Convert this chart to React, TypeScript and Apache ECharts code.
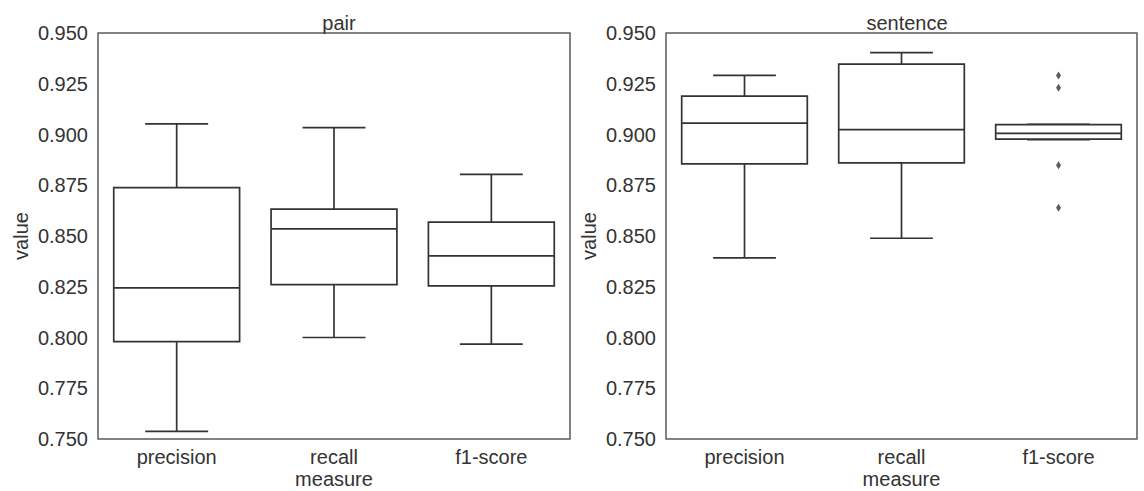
import React, { useEffect, useRef } from "react";
import * as echarts from "echarts";

const categories = ["precision", "recall", "f1-score"];
// [low whisker, Q1, median, Q3, high whisker]
const pairBoxes = [
  [0.7538, 0.798, 0.8244, 0.8738, 0.9052],
  [0.8, 0.826, 0.8535, 0.8632, 0.9034],
  [0.7967, 0.8254, 0.8402, 0.8568, 0.8804],
];
const sentenceBoxes = [
  [0.8392, 0.8855, 0.9056, 0.9189, 0.9291],
  [0.8489, 0.886, 0.9024, 0.9347, 0.9403],
  [0.8975, 0.8977, 0.9006, 0.9049, 0.905],
];
// [category index, value]
const sentenceOutliers = [
  [2, 0.9291],
  [2, 0.923],
  [2, 0.8849],
  [2, 0.8639],
];
const yTicks = { min: 0.75, max: 0.95, interval: 0.025 };
const titles = ["pair", "sentence"];

const LINE = "#333333";
const TEXT = "#333333";
const FONT = "Liberation Sans, Arial, sans-serif";
const FS = 20;

function renderBox(params: any, api: any) {
  const x = api.value(0);
  const low = api.coord([x, api.value(1)]);
  const q1 = api.coord([x, api.value(2)]);
  const med = api.coord([x, api.value(3)]);
  const q3 = api.coord([x, api.value(4)]);
  const high = api.coord([x, api.value(5)]);
  const cx = low[0];
  const band = api.size([1, 0])[0];
  const bw = band * 0.8;
  const cw = bw / 2;
  const style = { stroke: LINE, lineWidth: 1.7, fill: null };
  return {
    type: "group",
    children: [
      { type: "line", shape: { x1: cx, y1: q3[1], x2: cx, y2: high[1] }, style },
      { type: "line", shape: { x1: cx, y1: q1[1], x2: cx, y2: low[1] }, style },
      { type: "line", shape: { x1: cx - cw / 2, y1: high[1], x2: cx + cw / 2, y2: high[1] }, style },
      { type: "line", shape: { x1: cx - cw / 2, y1: low[1], x2: cx + cw / 2, y2: low[1] }, style },
      {
        type: "rect",
        shape: { x: cx - bw / 2, y: q3[1], width: bw, height: q1[1] - q3[1] },
        style: { stroke: LINE, lineWidth: 1.7, fill: "#ffffff" },
      },
      { type: "line", shape: { x1: cx - bw / 2, y1: med[1], x2: cx + bw / 2, y2: med[1] }, style },
    ],
  };
}

export default function App() {
  const ref = useRef<HTMLDivElement>(null);
  useEffect(() => {
    document.body.style.margin = "0";
    const chart = echarts.init(ref.current!, null, { renderer: "svg" });
    const grids = [
      { left: 98, right: 574, top: 33, bottom: 52 },
      { left: 666, right: 7, top: 33, bottom: 52 },
    ];
    const boxData = (boxes: number[][]) => boxes.map((b, i) => [i, ...b]);
    chart.setOption({
      animation: false,
      backgroundColor: "#ffffff",
      textStyle: { fontFamily: FONT },
      title: titles.map((t, i) => ({
        text: t,
        left: i === 0 ? 334 : 902,
        top: 8,
        textAlign: "center",
        textStyle: { fontFamily: FONT, fontSize: FS, fontWeight: "normal", color: TEXT },
      })),
      grid: grids.map((g) => ({
        ...g,
        show: true,
        containLabel: false,
        outerBoundsMode: "none",
        borderColor: "#5a5a5a",
        borderWidth: 1.5,
        backgroundColor: "#ffffff",
      })),
      xAxis: [0, 1].map((i) => ({
        type: "category",
        gridIndex: i,
        data: categories,
        boundaryGap: true,
        name: "measure",
        nameLocation: "middle",
        nameGap: 30,
        nameMoveOverlap: false,
        nameTextStyle: { fontFamily: FONT, fontSize: FS, color: TEXT, lineHeight: 20 },
        axisLine: { show: false },
        axisTick: { show: false },
        axisLabel: { fontFamily: FONT, fontSize: FS, color: TEXT, margin: 8 },
        splitLine: { show: false },
      })),
      yAxis: [0, 1].map((i) => ({
        type: "value",
        gridIndex: i,
        min: yTicks.min,
        max: yTicks.max,
        interval: yTicks.interval,
        name: "value",
        nameLocation: "middle",
        nameGap: 67,
        nameTextStyle: { fontFamily: FONT, fontSize: FS, color: TEXT },
        axisLine: { show: false },
        axisTick: { show: false },
        splitLine: { show: false },
        axisLabel: {
          fontFamily: FONT,
          fontSize: FS,
          color: TEXT,
          margin: 10,
          formatter: (v: number) => v.toFixed(3),
        },
      })),
      series: [
        {
          type: "custom",
          xAxisIndex: 0,
          yAxisIndex: 0,
          renderItem: renderBox,
          data: boxData(pairBoxes),
          encode: { x: 0, y: [1, 2, 3, 4, 5] },
        },
        {
          type: "custom",
          xAxisIndex: 1,
          yAxisIndex: 1,
          renderItem: renderBox,
          data: boxData(sentenceBoxes),
          encode: { x: 0, y: [1, 2, 3, 4, 5] },
        },
        {
          type: "scatter",
          xAxisIndex: 1,
          yAxisIndex: 1,
          symbol: "diamond",
          symbolSize: [5, 8],
          itemStyle: { color: LINE },
          data: sentenceOutliers,
        },
      ],
    });
    return () => chart.dispose();
  }, []);
  return <div ref={ref} style={{ width: 1144, height: 491 }} />;
}
